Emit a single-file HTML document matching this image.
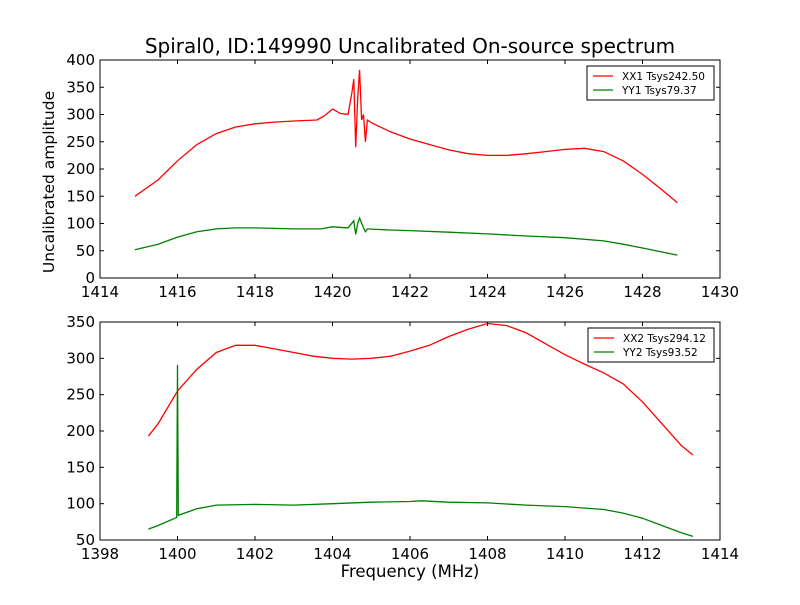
<!DOCTYPE html>
<html><head><meta charset="utf-8"><style>
body{margin:0;background:#fff;}
text{font-family:"DejaVu Sans","Liberation Sans",sans-serif;fill:#000;}
</style></head><body>
<svg id="c" width="800" height="600" xmlns="http://www.w3.org/2000/svg">
<rect width="800" height="600" fill="#fff"/>
<text x="410" y="53" font-size="20" text-anchor="middle">Spiral0, ID:149990 Uncalibrated On-source spectrum</text>
<text transform="translate(54,182) rotate(-90)" font-size="15.5" text-anchor="middle">Uncalibrated amplitude</text>
<text x="410" y="577" font-size="16.5" text-anchor="middle">Frequency (MHz)</text>
<g id="top"></g>
<g id="bot"></g>
</svg>
<script>
const xx1Freq=[1414.9,1415.5,1416,1416.5,1417,1417.5,1418,1418.5,1419,1419.6,1419.8,1420,1420.2,1420.4,1420.5,1420.55,1420.6,1420.65,1420.7,1420.75,1420.8,1420.85,1420.9,1421,1421.5,1422,1422.5,1423,1423.5,1424,1424.5,1425,1425.5,1426,1426.5,1427,1427.5,1428,1428.5,1428.9];
const xx1Vals=[150,180,215,245,265,277,283,286,288,290,298,310,302,300,340,365,240,330,382,290,300,250,290,285,268,255,245,235,228,225,225,228,232,236,238,232,215,190,162,138];
const yy1Freq=[1414.9,1415.5,1416,1416.5,1417,1417.5,1418,1419,1419.7,1420,1420.4,1420.55,1420.6,1420.65,1420.7,1420.8,1420.85,1420.9,1421.5,1422,1423,1424,1425,1426,1427,1427.5,1428,1428.9];
const yy1Vals=[52,62,75,85,90,92,92,90,90,94,92,105,80,100,110,92,85,90,88,87,84,81,77,74,68,62,55,42];
const xx2Freq=[1399.25,1399.5,1400,1400.5,1401,1401.5,1402,1402.5,1403,1403.5,1404,1404.5,1405,1405.5,1406,1406.5,1407,1407.5,1408,1408.5,1409,1409.5,1410,1410.5,1411,1411.5,1412,1412.5,1413,1413.3];
const xx2Vals=[193,210,255,285,308,318,318,313,308,303,300,299,300,303,310,318,330,340,348,345,335,320,305,292,280,265,240,210,180,167];
const yy2Freq=[1399.25,1399.5,1399.98,1400,1400.02,1400.5,1401,1402,1403,1404,1405,1406,1406.3,1407,1408,1409,1410,1411,1411.5,1412,1412.5,1413,1413.3];
const yy2Vals=[65,70,81,291,84,93,98,99,98,100,102,103,104,102,101,98,96,92,87,80,70,60,55];
const topXTicks=[1414,1416,1418,1420,1422,1424,1426,1428,1430];
const topYTicks=[0,50,100,150,200,250,300,350,400];
const botXTicks=[1398,1400,1402,1404,1406,1408,1410,1412,1414];
const botYTicks=[50,100,150,200,250,300,350];
const NS='http://www.w3.org/2000/svg';
function mk(t,a,p){const e=document.createElementNS(NS,t);for(const k in a)e.setAttribute(k,a[k]);p.appendChild(e);return e;}
function panel(g,L,R,T,B,x0,x1,y0,y1,xt,yt,series,legend){
  const sx=v=>L+(v-x0)/(x1-x0)*(R-L), sy=v=>B-(v-y0)/(y1-y0)*(B-T);
  series.forEach((s,i)=>{
    const p=mk('polyline',{points:s.f.map((f,j)=>sx(f).toFixed(1)+','+sy(s.v[j]).toFixed(1)).join(' '),fill:'none',stroke:s.c,'stroke-width':1.3},g);
    
    
  });
  const fr=mk('rect',{x:L,y:T,width:R-L,height:B-T,fill:'none',stroke:'#000','stroke-width':1},g);
  
  
  xt.forEach(v=>{const x=sx(v);mk('line',{x1:x,x2:x,y1:B,y2:B-4,stroke:'#000'},g);mk('line',{x1:x,x2:x,y1:T,y2:T+4,stroke:'#000'},g);
    const t=mk('text',{x:x,y:B+19,'font-size':15,'text-anchor':'middle'},g);t.textContent=v;
    
    });
  yt.forEach(v=>{const y=sy(v);mk('line',{x1:L,x2:L+4,y1:y,y2:y,stroke:'#000'},g);mk('line',{x1:R,x2:R-4,y1:y,y2:y,stroke:'#000'},g);
    const t=mk('text',{x:L-5,y:y+5,'font-size':15,'text-anchor':'end'},g);t.textContent=v;
    
    });
  const lx=legend.x,ly=T+6;
  const lg=mk('g',{},g);
  
  
  mk('rect',{x:lx,y:ly,width:R-6-lx,height:34,fill:'#fff',stroke:'#000'},lg);
  series.forEach((s,i)=>{const y=ly+10+i*14;
    mk('line',{x1:lx+6,x2:lx+26,y1:y,y2:y,stroke:s.c,'stroke-width':1.3},lg);
    const t=mk('text',{x:lx+35,y:y+4,'font-size':10.5},lg);t.textContent=s.label;
    
    });
}
panel(document.getElementById('top'),100,720,60,278,1414,1430,0,400,topXTicks,topYTicks,
 [{f:xx1Freq,v:xx1Vals,c:'#ff0000',n:'xx1',label:'XX1 Tsys242.50'},{f:yy1Freq,v:yy1Vals,c:'#008000',n:'yy1',label:'YY1 Tsys79.37'}],{x:587});
panel(document.getElementById('bot'),100,720,322,540,1398,1414,50,350,botXTicks,botYTicks,
 [{f:xx2Freq,v:xx2Vals,c:'#ff0000',n:'xx2',label:'XX2 Tsys294.12'},{f:yy2Freq,v:yy2Vals,c:'#008000',n:'yy2',label:'YY2 Tsys93.52'}],{x:588});
</script>
</body></html>
